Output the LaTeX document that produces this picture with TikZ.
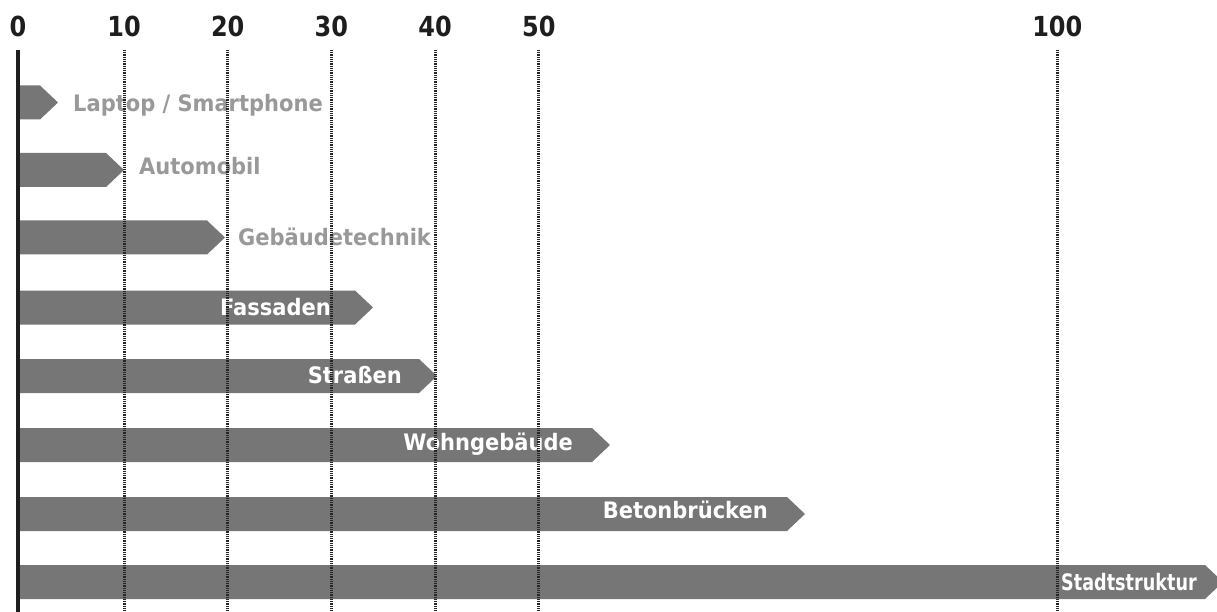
\documentclass[tikz,border=0pt]{standalone}
\usepackage{fontspec}
\setmainfont{DejaVu Sans}

\definecolor{barfill}{HTML}{767676}
\definecolor{labelgray}{HTML}{999999}
\definecolor{axisblack}{HTML}{1E1E1E}

\begin{document}
\begin{tikzpicture}[x=1pt, y=-1pt,
	font=\bfseries\fontsize{21}{21}\selectfont,
	bar/.style={fill=barfill},
	gridline/.style={line width=3pt, dash pattern=on 1pt off 0.8pt, black!85},
	outlabel/.style={anchor=base west, inner sep=0pt, text=labelgray, yscale=1.08},
	inlabel/.style={anchor=base east, inner sep=0pt, text=white, yscale=1.08},
	ticklabel/.style={anchor=center, inner sep=0pt, text=axisblack, yscale=1.15, font=\bfseries\fontsize{24}{24}\selectfont}]
	\useasboundingbox (0, 0) rectangle (1217, 612);
	\fill[white] (0, 0) rectangle (1217, 612);

	% bars (tip / centre)
	\foreach \tip/\y in {58/102.5, 124/170, 225/237.5, 373/307.5, 437/376, 610/445, 805/514, 1223/582} {
			\fill[bar] (18, \y - 17) -- (\tip - 18, \y - 17) -- (\tip, \y) -- (\tip - 18, \y + 17) -- (18, \y + 17) -- cycle;
		}

	\node[outlabel] (laptop) at (73, 112) {Laptop / Smartphone};
	\node[outlabel] (auto) at (139, 175) {Automobil};
	\node[outlabel] (technik) at (238, 246) {Gebäudetechnik};
	\node[inlabel] (fassaden) at (331, 315) {Fassaden};
	\node[inlabel] (strassen) at (402, 383) {Straßen};
	\node[inlabel] (wohnen) at (573, 450) {Wohngebäude};
	\node[inlabel] (bruecken) at (768, 518.5) {Betonbrücken};
	\node[inlabel, xscale = 0.84] (stadt) at (1197, 590) {Stadtstruktur};

	% grid
	\foreach \v in {10, 20, 30, 40, 50, 100} {
			\draw[gridline] (20.3 + 10.37 * \v, 50) -- ++ (0, 562) node[pos=0, yshift = 23.5pt, ticklabel] (tick\v) {\v};
		}
	\draw[line width = 4.5pt, axisblack] (18, 50) -- (18, 612);
	\node[ticklabel] (tick0) at (18, 26.5) {0};
\end{tikzpicture}
\end{document}
